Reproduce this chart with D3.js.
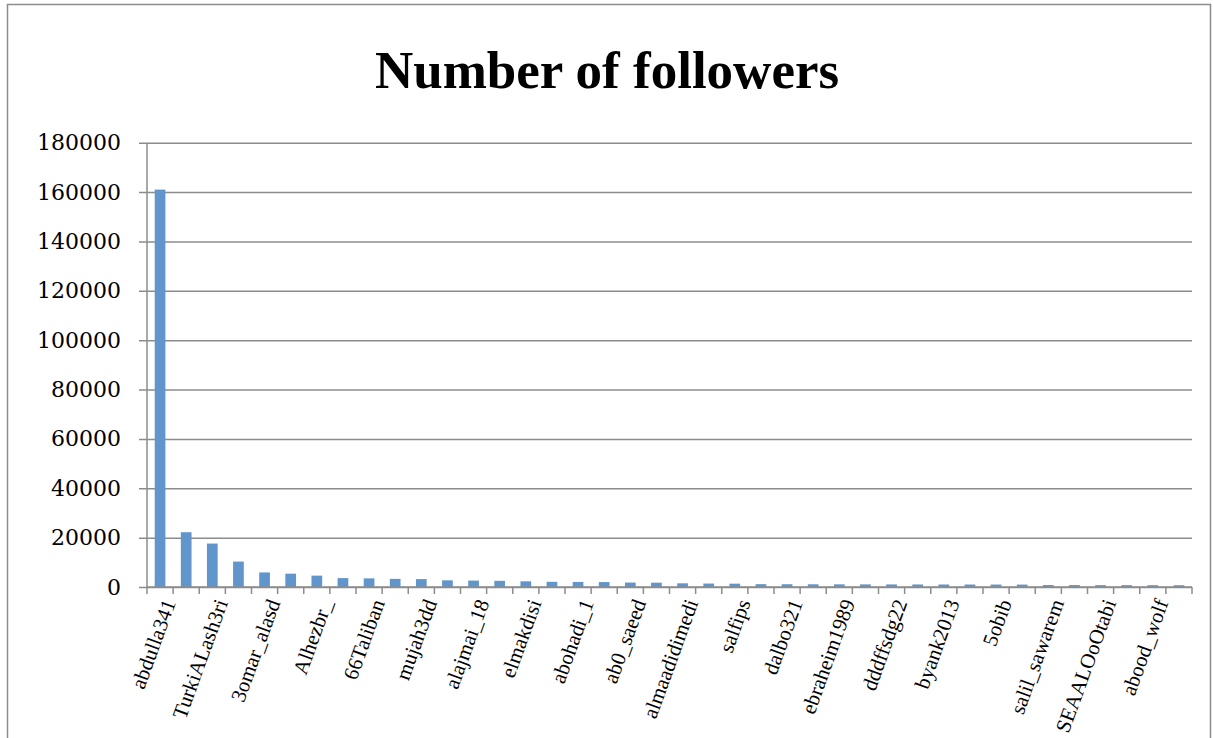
<!DOCTYPE html>
<html><head><meta charset="utf-8">
<script src="https://cdn.jsdelivr.net/npm/d3@7/dist/d3.min.js"></script>
<style>html,body{margin:0;padding:0;background:#fff;}</style>
</head><body>
<svg id="chart" width="1213" height="738"></svg>
<script>
// 40 accounts; only every other name is printed on the original axis (hidden ones are null)
const categories = [
  "abdulla341", null, "TurkiALash3ri", null, "3omar_alasd", null, "Alhezbr_", null,
  "66Taliban", null, "mujah3dd", null, "alajmai_18", null, "elmakdisi", null,
  "abohadi_1", null, "ab0_saeed", null, "almaadidimedi", null, "salfips", null,
  "dalbo321", null, "ebraheim1989", null, "dddffsdg22", null, "byank2013", null,
  "5obib", null, "salil_sawarem", null, "SEAALOoOtabi", null, "abood_wolf", null
];
const followers = [
  161000, 22200, 17600, 10300, 5900, 5400, 4600, 3600,
  3500, 3300, 3200, 2700, 2600, 2500, 2300, 2100,
  2050, 2000, 1800, 1750, 1500, 1400, 1350, 1150,
  1120, 1100, 1080, 1060, 1050, 1030, 1010, 1000,
  990, 980, 800, 780, 760, 750, 740, 720
];
const yTicks = [0, 20000, 40000, 60000, 80000, 100000, 120000, 140000, 160000, 180000];
const title = "Number of followers";

const svg = d3.select("#chart");
const pLeft = 147, pRight = 1192, pTop = 142.7, pBottom = 587;
const gray = "#8c8c8c";

// outer chart border
svg.append("rect").attr("x", 7.5).attr("y", 4.5).attr("width", 1203).attr("height", 800)
  .attr("fill", "none").attr("stroke", gray).attr("stroke-width", 1.5);

const x = d3.scaleBand().domain(d3.range(categories.length)).range([pLeft, pRight]).paddingInner(0.59).paddingOuter(0.295);
const xb = d3.scaleBand().domain(d3.range(categories.length)).range([pLeft, pRight]);
const y = d3.scaleLinear().domain([0, 180000]).range([pBottom, pTop]);

// gridlines + y labels
const yAxis = d3.axisLeft(y).tickValues(yTicks).tickSize(-(pRight - pLeft + 8)).tickFormat(d3.format("d")).tickPadding(18);
const gy = svg.append("g").attr("transform", `translate(${pLeft - 8},0)`).call(yAxis);
gy.select(".domain").remove();
gy.selectAll(".tick line").attr("stroke", gray).attr("stroke-width", 1.5);
gy.selectAll(".tick text").attr("font-family", "DejaVu Serif").attr("font-size", 22).attr("fill", "#000");

// y axis line
svg.append("line").attr("x1", pLeft).attr("x2", pLeft).attr("y1", pTop).attr("y2", pBottom)
  .attr("stroke", gray).attr("stroke-width", 1.5);

// bars
svg.append("g").selectAll("rect").data(followers).join("rect")
  .attr("x", (d, i) => x(i)).attr("width", x.bandwidth())
  .attr("y", d => y(d)).attr("height", d => pBottom - y(d))
  .attr("fill", "#6096cc");

// x axis
const boundaries = d3.range(categories.length + 1).map(i => pLeft + i * xb.step());
svg.append("line").attr("x1", pLeft).attr("x2", pRight).attr("y1", pBottom).attr("y2", pBottom)
  .attr("stroke", gray).attr("stroke-width", 1.5);
svg.append("g").selectAll("line").data(boundaries).join("line")
  .attr("x1", d => d).attr("x2", d => d).attr("y1", pBottom).attr("y2", pBottom + 7)
  .attr("stroke", gray).attr("stroke-width", 1.5);

// rotated category labels
svg.append("g").selectAll("text").data(categories.map((c, i) => ({c, i})).filter(d => d.c))
  .join("text")
  .attr("transform", d => `translate(${xb(d.i) + xb.step() / 2 + 9},${pBottom + 13}) rotate(-70)`)
  .attr("text-anchor", "end").attr("dy", "0.35em")
  .attr("font-family", "Liberation Serif").attr("font-size", 21).attr("fill", "#000")
  .text(d => d.c);

// title
svg.append("text").attr("x", 607).attr("y", 88).attr("text-anchor", "middle")
  .attr("font-family", "Liberation Serif").attr("font-weight", "bold").attr("font-size", 53)
  .text(title);
</script>
</body></html>
